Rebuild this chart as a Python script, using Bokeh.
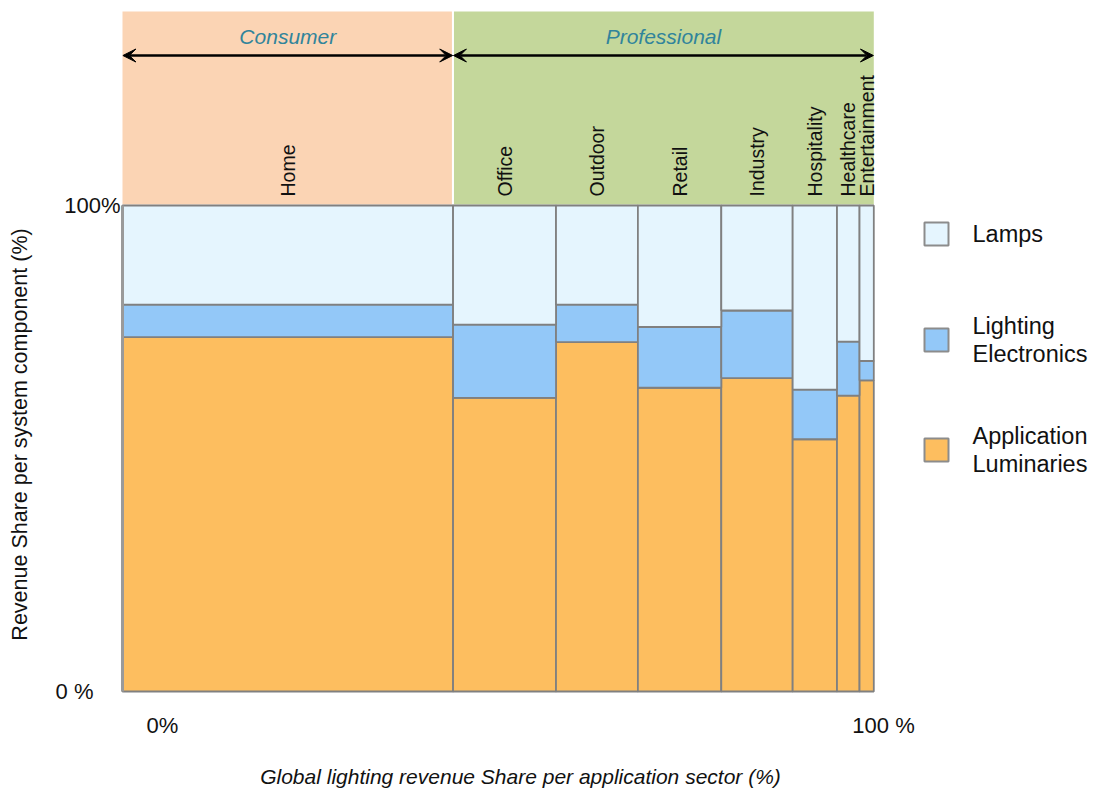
import math
from bokeh.plotting import figure
from bokeh.models import Range1d, Label, Arrow, VeeHead, ColumnDataSource
from bokeh.embed import file_html
from bokeh.resources import INLINE

# ---------------- data ----------------
sectors = ["Home", "Office", "Outdoor", "Retail", "Industry",
           "Hospitality", "Healthcare", "Entertainment"]
sector_share = [44.0, 13.7, 10.9, 11.1, 9.5, 5.9, 3.0, 1.9]      # % of global revenue
luminaires = [72.9, 60.4, 71.9, 62.5, 64.5, 51.9, 60.9, 64.0]     # Application Luminaries %
electronics = [6.7, 15.1, 7.7, 12.5, 13.9, 10.2, 11.1, 4.0]       # Lighting Electronics %
lamps = [20.4, 24.5, 20.4, 25.0, 21.6, 37.9, 28.0, 32.0]          # Lamps %
groups = ["Consumer", "Professional"]
group_sizes = [1, 7]
series_labels = [["Lamps"], ["Lighting", "Electronics"], ["Application", "Luminaries"]]
y_tick_values = [0, 100]
y_tick_labels = ["0 %", "100%"]
x_tick_labels = ["0%", "100 %"]

# ---------------- styles ----------------
FONT = "Liberation Sans"
C_LAMPS = "#E5F5FE"
C_ELEC = "#93C8F8"
C_LUM = "#FDBE5F"
C_EDGE = "#808080"
C_CONS = "#FBD4B4"
C_PROF = "#C4D79B"
C_GROUP_TXT = "#31849B"

W, H = 1095, 792
OFF = 0
# pixel geometry of the plot frame (page coordinates)
PX_X0, PX_X1 = 122.0, 873.3
PX_Y0, PX_Y100 = 691.0, 205.0
SX = (PX_X1 - PX_X0) / 100.0
SY = (PX_Y0 - PX_Y100) / 100.0


def px2x(X):
    return (X - PX_X0) / SX


def px2y(Y):
    return (PX_Y0 - Y) / SY


p = figure(width=W, height=H, output_backend="svg", toolbar_location=None,
           x_range=Range1d(px2x(OFF), px2x(OFF + W)),
           y_range=Range1d(px2y(OFF + H), px2y(OFF)),
           min_border=0, min_border_left=0, min_border_right=0,
           min_border_top=0, min_border_bottom=0)
p.title.visible = False
p.axis.visible = False
p.grid.visible = False
p.outline_line_color = None
p.background_fill_color = "white"
p.border_fill_color = "white"

# ---------------- marimekko geometry ----------------
rights = []
acc = 0.0
for s in sector_share:
    acc += s
    rights.append(acc)
lefts = [r - s for r, s in zip(rights, sector_share)]
centers = [(l + r) / 2 for l, r in zip(lefts, rights)]

b_lum = [0.0] * len(sectors)
t_lum = luminaires
b_elec = t_lum
t_elec = [a + b for a, b in zip(luminaires, electronics)]
b_lamp = t_elec
t_lamp = [a + b for a, b in zip(t_elec, lamps)]

# ---------------- header boxes ----------------
hdr_bot, hdr_top = px2y(204), px2y(11)
g_left = []
g_right = []
i = 0
for gs in group_sizes:
    g_left.append(lefts[i])
    g_right.append(rights[i + gs - 1])
    i += gs
p.quad(left=[g_left[0]], right=[g_right[0] - 0.15], bottom=hdr_bot, top=hdr_top,
       fill_color=C_CONS, line_color=None)
p.quad(left=[g_left[1] + 0.12], right=[g_right[1]], bottom=hdr_bot, top=hdr_top,
       fill_color=C_PROF, line_color=None)

arrow_y = px2y(55)
for gl, gr, name in zip(g_left, g_right, groups):
    p.add_layout(Arrow(start=VeeHead(size=13, fill_color="black", line_color="black", line_width=1),
                       end=VeeHead(size=13, fill_color="black", line_color="black", line_width=1),
                       x_start=gl + 0.05, y_start=arrow_y, x_end=gr - 0.05, y_end=arrow_y,
                       line_width=2.5, line_color="black"))
    p.add_layout(Label(x=(gl + gr) / 2, y=px2y(36), text=name, text_font=FONT,
                       text_font_style="italic", text_font_size="21px",
                       text_color=C_GROUP_TXT, text_align="center", text_baseline="middle"))

# ---------------- bars ----------------
src = ColumnDataSource(dict(left=lefts, right=rights, b_lum=b_lum, t_lum=t_lum,
                            b_elec=b_elec, t_elec=t_elec, b_lamp=b_lamp, t_lamp=t_lamp))
for b, t, c in (("b_lum", "t_lum", C_LUM), ("b_elec", "t_elec", C_ELEC), ("b_lamp", "t_lamp", C_LAMPS)):
    p.quad(left="left", right="right", bottom=b, top=t, source=src,
           fill_color=c, line_color=C_EDGE, line_width=1.8)

# left edge of frame slightly thicker
p.segment(x0=[0], y0=[0], x1=[0], y1=[100], line_color="#9a9a9a", line_width=3)

# ---------------- category labels ----------------
for name, cx in zip(sectors, centers):
    p.add_layout(Label(x=cx, y=px2y(196), text=name, angle=math.pi / 2,
                       text_font=FONT, text_font_size="19.5px", text_color="#111111",
                       text_align="left", text_baseline="middle"))

# ---------------- axis tick labels ----------------
for v, lab in zip(y_tick_values, y_tick_labels):
    p.add_layout(Label(x=px2x(120) if v == 100 else px2x(93), y=v, text=lab,
                       text_font=FONT, text_font_size="22px", text_color="#111111",
                       text_align="right", text_baseline="middle"))
p.add_layout(Label(x=px2x(162), y=px2y(725), text=x_tick_labels[0], text_font=FONT,
                   text_font_size="22px", text_color="#111111",
                   text_align="center", text_baseline="middle"))
p.add_layout(Label(x=px2x(883), y=px2y(725), text=x_tick_labels[1], text_font=FONT,
                   text_font_size="22px", text_color="#111111",
                   text_align="center", text_baseline="middle"))

# ---------------- axis titles ----------------
p.add_layout(Label(x=px2x(19), y=px2y(431), text="Revenue Share per system component  (%)",
                   angle=math.pi / 2, text_font=FONT, text_font_size="21.5px",
                   text_color="#111111", text_align="center", text_baseline="middle"))
p.add_layout(Label(x=px2x(520), y=px2y(776),
                   text="Global lighting revenue Share per application sector (%)",
                   text_font=FONT, text_font_style="italic", text_font_size="21px",
                   text_color="#111111", text_align="center", text_baseline="middle"))

# ---------------- legend ----------------
sw_tops = [222, 328, 438]
sw_cols = [C_LAMPS, C_ELEC, C_LUM]
for top_px, col, labs in zip(sw_tops, sw_cols, series_labels):
    p.quad(left=[px2x(924)], right=[px2x(948)], top=[px2y(top_px)], bottom=[px2y(top_px + 23)],
           fill_color=col, line_color="#8c8c8c", line_width=2)
    mid = top_px + 11.5
    n = len(labs)
    for k, t in enumerate(labs):
        ypx = mid + (k - (n - 1) / 2) * 28
        p.add_layout(Label(x=px2x(972), y=px2y(ypx), text=t, text_font=FONT,
                           text_font_size="23.5px", text_color="#111111",
                           text_align="left", text_baseline="middle"))

open("out.html", "w").write(file_html(p, INLINE))
